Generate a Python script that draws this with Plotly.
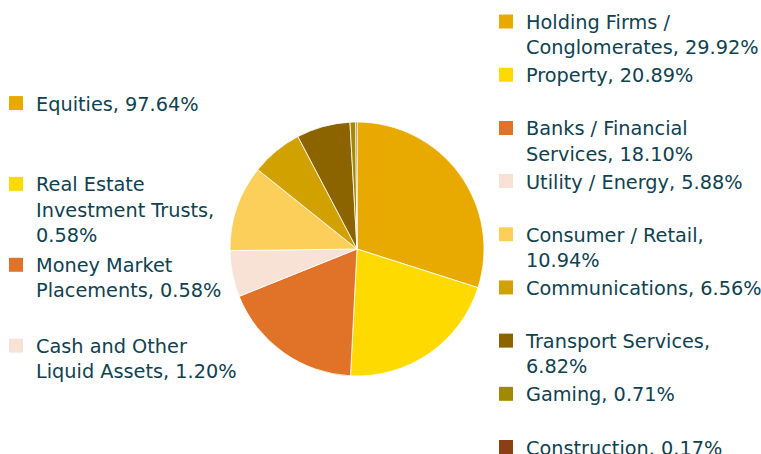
import plotly.graph_objects as go

# Sector allocation (pie)
sector_labels = ["Holding Firms / Conglomerates", "Property", "Banks / Financial Services",
                 "Utility / Energy", "Consumer / Retail", "Communications",
                 "Transport Services", "Gaming", "Construction"]
sector_values = [29.92, 20.89, 18.10, 5.88, 10.94, 6.56, 6.82, 0.71, 0.17]
sector_legend_text = ["Holding Firms /<br>Conglomerates, 29.92%", "Property, 20.89%<br> ",
                      "Banks / Financial<br>Services, 18.10%", "Utility / Energy, 5.88%<br> ",
                      "Consumer / Retail,<br>10.94%", "Communications, 6.56%<br> ",
                      "Transport Services,<br>6.82%", "Gaming, 0.71%<br> ",
                      "Construction. 0.17%"]
sector_colors = ["#E8A900", "#FFDA00", "#E07328", "#F8E2D6", "#FCCF5A",
                 "#D1A100", "#8B6400", "#A08A00", "#8B3F14"]

# Asset allocation (legend only)
asset_labels = ["Equities", "Real Estate Investment Trusts", "Money Market Placements",
                "Cash and Other Liquid Assets"]
asset_values = [97.64, 0.58, 0.58, 1.20]
asset_legend_text = ["Equities, 97.64%<br> <br> ", "Real Estate<br>Investment Trusts,<br>0.58%",
                     "Money Market<br>Placements, 0.58%<br> ", "Cash and Other<br>Liquid Assets, 1.20%"]
asset_colors = ["#E8A900", "#FFDA00", "#E07328", "#F8E2D6"]

W, H = 761, 454
FONT = "DejaVu Sans"
FS = 19.3
TXT = "#0F4250"

fig = go.Figure()

cx, cy, r = 357, 249, 127
fig.add_trace(go.Pie(
    labels=sector_labels, values=sector_values, sort=False, direction="clockwise",
    rotation=0, textinfo="none", hoverinfo="label+percent", showlegend=False,
    marker=dict(colors=sector_colors, line=dict(color="white", width=0.8)),
    domain=dict(x=[(cx - r) / W, (cx + r) / W], y=[(H - cy - r) / H, (H - cy + r) / H]),
))

for name, txt, col in zip(sector_labels, sector_legend_text, sector_colors):
    fig.add_trace(go.Scatter(x=[None], y=[None], mode="markers", name=txt,
                             marker=dict(symbol="square", size=14, color=col),
                             legend="legend", legendgroup=name, hoverinfo="skip"))

for name, txt, col in zip(asset_labels, asset_legend_text, asset_colors):
    fig.add_trace(go.Scatter(x=[None], y=[None], mode="markers", name=txt,
                             marker=dict(symbol="square", size=14, color=col),
                             legend="legend2", legendgroup=name, hoverinfo="skip"))

fig.update_layout(
    width=W, height=H,
    margin=dict(l=0, r=0, t=0, b=0, autoexpand=False),
    paper_bgcolor="white", plot_bgcolor="white",
    font=dict(family=FONT, size=FS, color=TXT),
    xaxis=dict(visible=False), yaxis=dict(visible=False),
    legend=dict(x=486 / W, xanchor="left", y=1 - 2.5 / H, yanchor="top",
                valign="top", itemsizing="trace", tracegroupgap=0,
                font=dict(family=FONT, size=FS, color=TXT), bgcolor="rgba(0,0,0,0)",
                itemclick=False, itemdoubleclick=False),
    legend2=dict(x=-4 / W, xanchor="left", y=1 - 84 / H, yanchor="top",
                 valign="top", itemsizing="trace", tracegroupgap=2.6,
                 font=dict(family=FONT, size=FS, color=TXT), bgcolor="rgba(0,0,0,0)",
                 itemclick=False, itemdoubleclick=False),
)

fig.write_html("out.html", config={"displayModeBar": False},
               post_script="document.body.style.margin='0';document.body.style.overflow='hidden';")
